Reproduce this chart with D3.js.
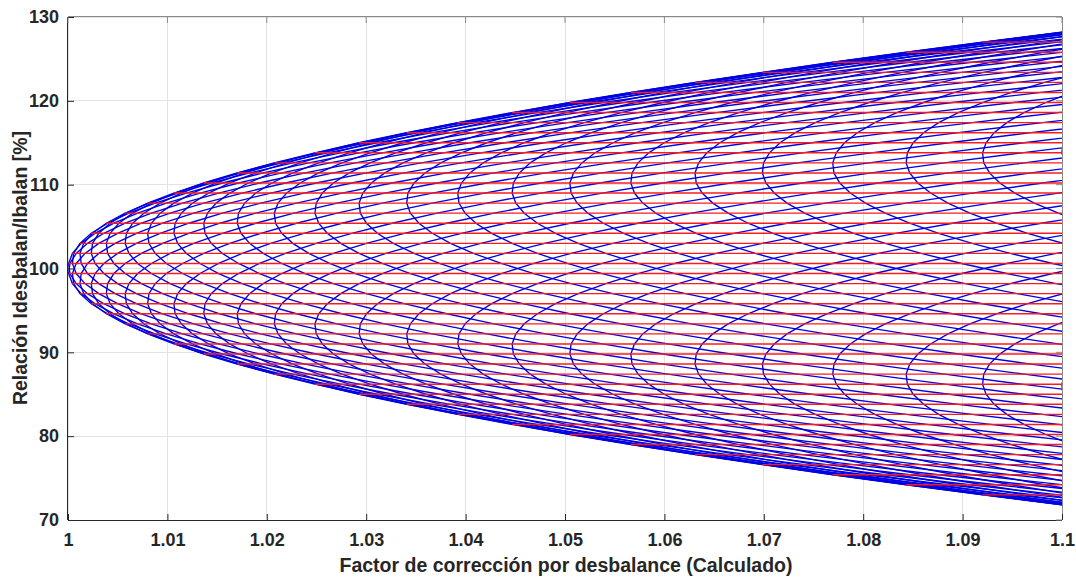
<!DOCTYPE html>
<html>
<head>
<meta charset="utf-8">
<script src="https://cdn.jsdelivr.net/npm/d3@7"></script>
<style>
  html, body { margin: 0; padding: 0; background: #ffffff; }
  svg { display: block; }
  text { font-family: "Liberation Sans", Arial, Helvetica, sans-serif; font-weight: bold; fill: #262626; }
</style>
</head>
<body>
<svg id="chart" width="1076" height="577"></svg>
<script>
// ---------------- data ----------------
// phase-current ratio levels [%] (one red horizontal line each; also the parameter of the blue curves)
const ratioLevels = [
  71.8, 73.0, 74.2, 75.4, 76.6, 77.8, 79.0, 80.2, 81.4, 82.6, 83.8, 85.0,
  86.2, 87.4, 88.6, 89.8, 91.0, 92.2, 93.4, 94.6, 95.8, 97.0, 98.2, 99.4,
  100.6, 101.8, 103.0, 104.2, 105.4, 106.6, 107.8, 109.0, 110.2, 111.4, 112.6, 113.8,
  115.0, 116.2, 117.4, 118.6, 119.8, 121.0, 122.2, 123.4, 124.6, 125.8, 127.0, 128.2
];
// second-phase ratio levels [%] (one blue curve each)
const secondPhaseLevels = ratioLevels.slice();
// unbalance coefficient of the correction-factor model
const unbalanceCoef = [3.52];
const xTicks = [1, 1.01, 1.02, 1.03, 1.04, 1.05, 1.06, 1.07, 1.08, 1.09, 1.1];
const xTickLabels = ["1", "1.01", "1.02", "1.03", "1.04", "1.05", "1.06", "1.07", "1.08", "1.09", "1.1"];
const yTicks = [70, 80, 90, 100, 110, 120, 130];
const yTickLabels = ["70", "80", "90", "100", "110", "120", "130"];
const xTitle = "Factor de corrección por desbalance (Calculado)";
const yTitle = "Relación Idesbalan/Ibalan [%]";

// correction factor for phase A ratio ya and phase B ratio yb (phase C closes the balance)
function factor(ya, yb) {
  const u = (ya - 100) / 100, v = (yb - 100) / 100;
  return Math.sqrt(1 + unbalanceCoef[0] * (u * u + u * v + v * v));
}

// ---------------- layout ----------------
const svg = d3.select("#chart");
const L = 68, R = 1062, T = 17, B = 520;
const x = d3.scaleLinear().domain([1, 1.1]).range([L, R]);
const y = d3.scaleLinear().domain([70, 130]).range([B, T]);

svg.append("rect").attr("width", 1076).attr("height", 577).attr("fill", "#fff");

// grid
const grid = svg.append("g");
grid.selectAll(".gx").data(xTicks).enter().append("line")
  .attr("x1", d => x(d)).attr("x2", d => x(d)).attr("y1", T).attr("y2", B)
  .attr("stroke", "#e3e3e3").attr("stroke-width", 1).attr("shape-rendering", "crispEdges");
grid.selectAll(".gy").data(yTicks).enter().append("line")
  .attr("y1", d => y(d)).attr("y2", d => y(d)).attr("x1", L).attr("x2", R)
  .attr("stroke", "#e3e3e3").attr("stroke-width", 1).attr("shape-rendering", "crispEdges");

// clip
svg.append("defs").append("clipPath").attr("id", "clip")
  .append("rect").attr("x", L).attr("y", T).attr("width", R - L).attr("height", B - T);

const plot = svg.append("g").attr("clip-path", "url(#clip)");
const line = d3.line().x(d => x(d[0])).y(d => y(d[1]));

// blue curves: constant second-phase ratio, varying phase A ratio
const blueData = secondPhaseLevels.map(yb => ratioLevels.map(ya => [factor(ya, yb), ya]));
plot.append("g").selectAll("path").data(blueData).enter().append("path")
  .attr("d", line).attr("fill", "none").attr("stroke", "#0000e0").attr("stroke-width", 1.35);

// red curves: constant phase A ratio, varying second-phase ratio (horizontal lines)
const redData = ratioLevels.map(ya => {
  const xs = secondPhaseLevels.map(yb => factor(ya, yb));
  return [[d3.min(xs), ya], [d3.max(xs), ya]];
});
plot.append("g").selectAll("path").data(redData).enter().append("path")
  .attr("d", line).attr("fill", "none").attr("stroke", "#ff1a1a").attr("stroke-width", 1.4);

// axes box
const axc = "#262626";
svg.append("line").attr("x1", L).attr("x2", R).attr("y1", B + 0.5).attr("y2", B + 0.5).attr("stroke", axc);
svg.append("line").attr("x1", L - 0.5).attr("x2", L - 0.5).attr("y1", T).attr("y2", B).attr("stroke", axc);
svg.append("line").attr("x1", L).attr("x2", R).attr("y1", T - 0.5).attr("y2", T - 0.5).attr("stroke", "#8a8a8a");
svg.append("line").attr("x1", R + 0.5).attr("x2", R + 0.5).attr("y1", T).attr("y2", B).attr("stroke", "#8a8a8a");

// axes with inward ticks
const fontFam = "Liberation Sans, Arial, sans-serif";
const xAxis = d3.axisBottom(x).tickValues(xTicks).tickFormat((d, i) => xTickLabels[i]).tickSizeInner(-6).tickSizeOuter(0).tickPadding(13);
const gx = svg.append("g").attr("transform", `translate(0,${B})`).call(xAxis);
gx.select(".domain").remove();
gx.selectAll(".tick line").attr("stroke", axc);
gx.selectAll(".tick text").attr("font-size", 18).attr("fill", axc).attr("font-family", fontFam).attr("font-weight", "bold");

const yAxis = d3.axisLeft(y).tickValues(yTicks).tickFormat((d, i) => yTickLabels[i]).tickSizeInner(-6).tickSizeOuter(0).tickPadding(9);
const gy = svg.append("g").attr("transform", `translate(${L},0)`).call(yAxis);
gy.select(".domain").remove();
gy.selectAll(".tick line").attr("stroke", axc);
gy.selectAll(".tick text").attr("font-size", 18).attr("fill", axc).attr("font-family", fontFam).attr("font-weight", "bold");

// top & right ticks
svg.append("g").selectAll("line").data(xTicks).enter().append("line")
  .attr("x1", d => x(d)).attr("x2", d => x(d)).attr("y1", T).attr("y2", T + 6).attr("stroke", "#8a8a8a");
svg.append("g").selectAll("line").data(yTicks).enter().append("line")
  .attr("y1", d => y(d)).attr("y2", d => y(d)).attr("x1", R).attr("x2", R - 6).attr("stroke", "#8a8a8a");

// titles
svg.append("text").attr("x", 566).attr("y", 572).attr("text-anchor", "middle")
  .attr("font-size", 19.5).text(xTitle);
svg.append("text").attr("transform", `translate(27,268) rotate(-90)`).attr("text-anchor", "middle")
  .attr("font-size", 19.5).text(yTitle);
</script>
</body>
</html>
